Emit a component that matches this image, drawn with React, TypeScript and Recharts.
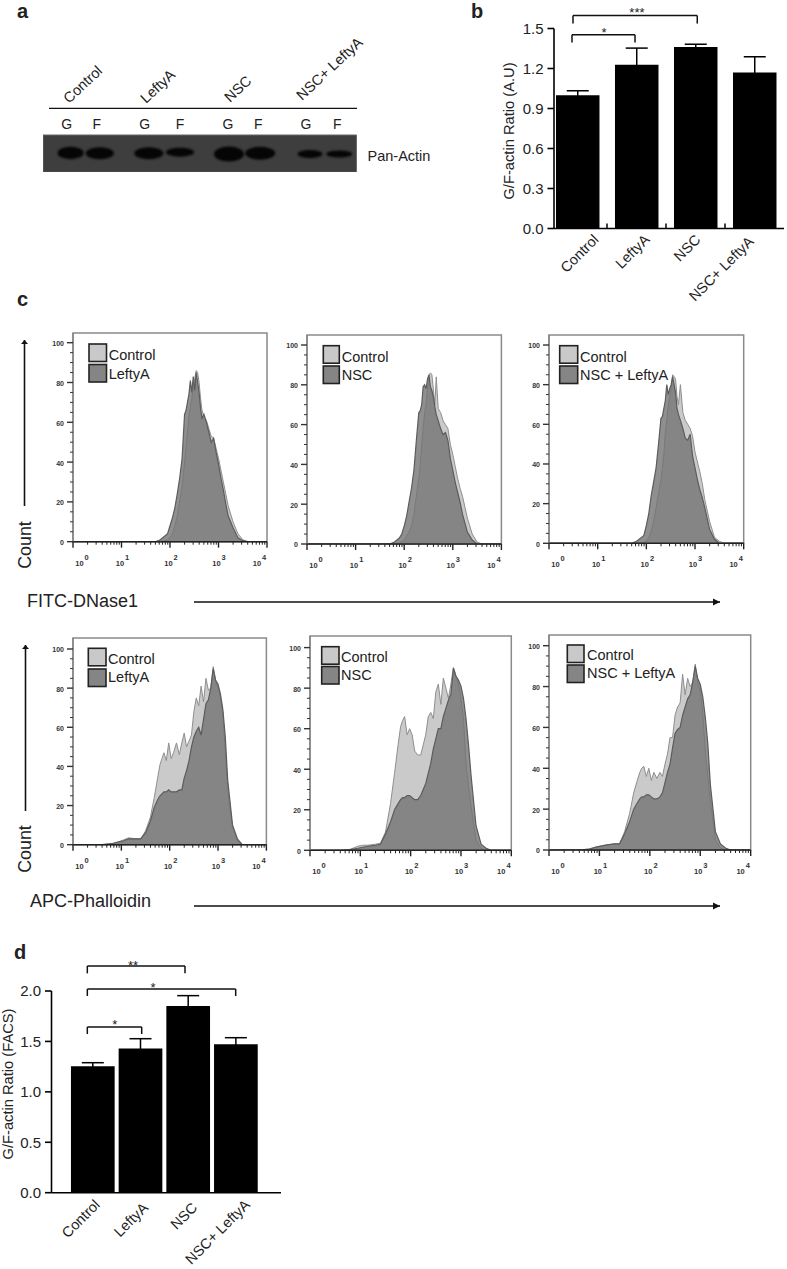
import React from 'react';
import {
  AreaChart, Area, BarChart, Bar, ErrorBar, ScatterChart, Scatter,
  XAxis, YAxis, ReferenceLine, ReferenceDot, ReferenceArea,
} from 'recharts';

const FONT = '"Liberation Sans", Arial, sans-serif';
const INK = '#222';

// ---------- Panel a: blot ----------
const laneLetters = ['G', 'F', 'G', 'F', 'G', 'F', 'G', 'F'];
const lanePositions = [0, 0.37, 0.99, 1.385, 2.005, 2.4, 3.03, 3.4];
const bandLengths = [26, 28, 29, 28, 30, 30, 25, 26];
const bandThickness = [12.5, 12, 12, 9, 15, 13, 8, 7];
const bandLevels = [0.52, 0.51, 0.51, 0.54, 0.49, 0.51, 0.49, 0.49];
const blotConditions = ['Control', 'LeftyA', 'NSC', 'NSC+ LeftyA'];

// ---------- Panels b and d ----------
const barCategories = ['Control', 'LeftyA', 'NSC', 'NSC+ LeftyA'];
const barPositions = [0, 1, 2, 3];
const ratioB = [1.0, 1.228, 1.362, 1.17];
const errorB = [0.033, 0.125, 0.02, 0.118];
const ratioD = [1.255, 1.431, 1.851, 1.471];
const errorD = [0.034, 0.096, 0.103, 0.066];

// ---------- Panel c: histogram bins (log10 of fluorescence) ----------
const dnaseLog = [0, 1.7, 1.8, 1.9, 1.95, 2.0, 2.05, 2.1, 2.15, 2.2, 2.25, 2.3, 2.33, 2.36, 2.39, 2.42, 2.45, 2.48, 2.51, 2.54, 2.57, 2.6, 2.63, 2.66, 2.7, 2.75, 2.8, 2.85, 2.9, 2.95, 3.0, 3.05, 3.1, 3.15, 3.2, 3.3, 3.4, 3.5, 3.6, 4];
const dnaseControl1 = [0, 0, 0, 0.5, 1, 2, 4, 8, 13, 20, 28, 40, 48, 55, 63, 68, 72, 78, 82, 86, 85, 80, 72, 66, 63, 61, 57, 53, 52, 47, 42, 36, 30, 24, 18, 10, 4, 1, 0, 0];
const dnaseLeftyA = [0, 0, 1, 3, 4, 8, 12, 17, 24, 32, 42, 64, 66, 70, 74, 81, 75, 83, 76, 85, 80, 75, 67, 62, 64, 60, 55, 50, 52, 45, 39, 32, 26, 19, 13, 7, 2, 0.5, 0, 0];
const dnaseControl2 = [0, 0, 0, 0.5, 1, 2, 4, 6, 9, 15, 24, 33, 40, 50, 58, 66, 70, 79, 85, 86, 85, 78, 70, 84, 68, 66, 62, 60, 58, 50, 45, 39, 33, 28, 24, 13, 5, 1, 0, 0];
const dnaseNSC = [0, 0, 1, 3, 5, 9, 14, 21, 28, 37, 52, 66, 67, 70, 79, 80, 78, 83, 85, 79, 77, 74, 69, 65, 62, 58, 55, 56, 52, 43, 37, 31, 26, 21, 15, 6, 2, 0, 0, 0];
const dnaseControl3 = [0, 0, 0, 0, 0.5, 1, 3, 6, 11, 18, 25, 32, 38, 45, 56, 62, 70, 74, 78, 85, 84, 83, 74, 70, 80, 66, 62, 60, 58, 54, 46, 41, 36, 30, 22, 11, 3, 1, 0, 0];
const dnaseBoth = [0, 0, 1, 3, 4, 9, 15, 24, 31, 38, 50, 63, 64, 68, 72, 80, 75, 78, 80, 84, 80, 76, 68, 65, 62, 58, 53, 52, 55, 44, 38, 32, 27, 23, 18, 7, 2, 0, 0, 0];

const phalloidinLog = [0, 0.6, 0.8, 0.95, 1.05, 1.15, 1.3, 1.4, 1.5, 1.6, 1.68, 1.75, 1.8, 1.84, 1.88, 1.93, 1.98, 2.03, 2.08, 2.14, 2.2, 2.25, 2.3, 2.35, 2.4, 2.45, 2.5, 2.55, 2.6, 2.65, 2.7, 2.75, 2.8, 2.85, 2.9, 2.95, 3.0, 3.05, 3.1, 3.15, 3.2, 3.3, 3.4, 3.5, 3.6, 4];
const phalControl1 = [0, 0, 0.5, 1.5, 2.5, 3.5, 3, 3, 7, 14, 24, 34, 41, 44, 47, 43, 52, 44, 47, 52, 46, 52, 57, 50, 53, 56, 68, 75, 71, 81, 73, 85, 79, 80, 91, 84, 80, 75, 67, 48, 27, 9, 2, 0, 0, 0];
const phalLeftyA = [0, 0, 0.5, 1.5, 2, 3, 3, 3, 6, 12, 19, 23, 25, 26, 27, 27, 28, 27, 27, 27, 28, 28, 34, 38, 43, 50, 55, 58, 60, 56, 64, 72, 74, 80, 90, 84, 82, 77, 69, 55, 33, 10, 3, 0, 0, 0];
const phalControl2 = [0, 0, 0.5, 2, 2.5, 2.5, 3, 3.5, 9, 23, 38, 52, 61, 64, 66, 57, 60, 57, 49, 47, 47, 52, 57, 66, 68, 65, 78, 82, 72, 85, 80, 75, 82, 90, 86, 82, 75, 65, 43, 32, 22, 5, 1, 0, 0, 0];
const phalNSC = [0, 0, 0.3, 1, 1.5, 2, 2.5, 3, 8, 14, 20, 23, 25, 26, 26, 27, 27, 26, 25, 25, 27, 30, 33, 38, 43, 50, 55, 60, 60, 66, 70, 74, 77, 90, 86, 84, 81, 75, 65, 52, 37, 12, 3, 1, 0, 0];
const phalControl3 = [0, 0, 0.5, 1.5, 2, 2.5, 3, 3, 9, 18, 28, 34, 38, 40, 41, 36, 40, 34, 38, 35, 38, 36, 42, 47, 55, 55, 66, 70, 72, 86, 76, 84, 80, 82, 91, 82, 78, 67, 48, 36, 24, 5, 1, 0, 0, 0];
const phalBoth = [0, 0, 0.5, 1.5, 2, 2.5, 3, 3, 8, 14, 20, 23, 25, 26, 26, 27, 27, 26, 25, 25, 26, 28, 33, 38, 42, 50, 57, 59, 60, 66, 70, 74, 76, 82, 90, 84, 81, 75, 65, 52, 32, 9, 3, 1, 0, 0];

const countTicks = [0, 5, 10, 15, 20, 25, 30, 35, 40, 45, 50, 55, 60, 65, 70, 75, 80, 85, 90, 95, 100];
const logMinorOffsets = [0.301, 0.477, 0.602, 0.699, 0.778, 0.845, 0.903, 0.954];
const decades = [0, 1, 2, 3, 4];

const zip = (log: number[], control: number[], treated: number[]) =>
  log.map((l, i) => ({ log: l, control: control[i], treated: treated[i] }));

const xTickValues = decades.flatMap((d) => (d < 4 ? [d, ...logMinorOffsets.map((o) => d + o)] : [d]));
const decadeLabelShift = [9, 1, 1, 0.5, -7.5];
const laneLabelShift = [-4, -3, -4, 0, -1, -2, -4, -2];

function LogTick({ x, y, payload }: any) {
  const v = payload.value;
  const major = Number.isInteger(v);
  return (
    <g>
      <line x1={x} x2={x} y1={y} y2={y + (major ? 6 : 3)} stroke="#222" strokeWidth={major ? 1.4 : 1} />
      {major ? (
        <text x={x + decadeLabelShift[v]} y={y + 24} textAnchor="middle" fontSize={7.5} fontWeight={700} fill="#333" fontFamily={FONT}>
          10
          <tspan dx={1} dy={-6} fontSize={7.5}>{v}</tspan>
        </text>
      ) : null}
    </g>
  );
}

function CountTick({ x, y, payload }: any) {
  const v = payload.value;
  const major = v % 20 === 0;
  return (
    <g>
      <line x1={x - (major ? 6 : 3)} x2={x} y1={y} y2={y} stroke="#333" strokeWidth={major ? 1.4 : 1} />
      {major ? (
        <text x={x - 9} y={y + 3.5} textAnchor="end" fontSize={7} fontWeight={700} fill="#333" fontFamily={FONT}>{v}</text>
      ) : null}
    </g>
  );
}

function FlowPanel({ g, data }: any) {
  const pad = 40;
  const width = g.x4 - g.x0;
  const plotH = g.y0 - g.top;
  const yMax = ((g.y0 - g.top) / (g.y0 - g.y100)) * 100;
  return (
    <div style={{ position: 'absolute', left: g.x0 - pad, top: g.top - 5 }}>
      <AreaChart
        width={pad + width + 10}
        height={5 + plotH + 32}
        data={data}
        margin={{ top: 5, right: 10, left: 0, bottom: 0 }}
      >
        <ReferenceArea x1={0} x2={4} y1={0} y2={yMax} fill="#fff" stroke="#8a8a8a" strokeWidth={1.5} ifOverflow="visible" />
        <XAxis
          dataKey="log" type="number" domain={[0, 4]} allowDataOverflow ticks={xTickValues} interval={0}
          height={32} tickSize={0} tickMargin={0} tickLine={false} tick={LogTick} stroke="#222" strokeWidth={1.6}
        />
        <YAxis
          type="number" domain={[0, yMax]} allowDataOverflow ticks={countTicks} interval={0}
          width={pad} tickSize={0} tickMargin={0} tickLine={false} tick={CountTick} stroke="#777" strokeWidth={1}
        />
        <Area dataKey="control" type="linear" isAnimationActive={false} fill="#cacaca" fillOpacity={1} stroke="#8e8e8e" strokeWidth={1} dot={false} />
        <Area dataKey="treated" type="linear" isAnimationActive={false} fill="#737373" fillOpacity={0.8} stroke="#5c5c5c" strokeWidth={1.2} dot={false} />
      </AreaChart>
    </div>
  );
}

const flowPanels = [
  { x0: 72.7, x4: 266.7, y100: 342.7, y0: 541.7, top: 333, swatchX: 89, swatchW: 17.5, swatchY: [344, 364.5], textX: 108.7, textY: [360, 379], name: 'LeftyA', data: zip(dnaseLog, dnaseControl1, dnaseLeftyA) },
  { x0: 307.3, x4: 501.7, y100: 345, y0: 544, top: 335, swatchX: 323.3, swatchW: 16, swatchY: [345.7, 366], textX: 341.7, textY: [361.7, 380], name: 'NSC', data: zip(dnaseLog, dnaseControl2, dnaseNSC) },
  { x0: 549, x4: 743.7, y100: 345, y0: 543.3, top: 335, swatchX: 559.7, swatchW: 18, swatchY: [345.7, 366], textX: 580, textY: [361.7, 380], name: 'NSC + LeftyA', data: zip(dnaseLog, dnaseControl3, dnaseBoth) },
  { x0: 73.3, x4: 266.7, y100: 649.3, y0: 845, top: 638.3, swatchX: 88.3, swatchW: 17.7, swatchY: [648.3, 669], textX: 108, textY: [663.7, 682], name: 'LeftyA', data: zip(phalloidinLog, phalControl1, phalLeftyA) },
  { x0: 310, x4: 511.3, y100: 647.3, y0: 850, top: 635.7, swatchX: 321.7, swatchW: 17.3, swatchY: [646.7, 666.5], textX: 341, textY: [661.7, 680], name: 'NSC', data: zip(phalloidinLog, phalControl2, phalNSC) },
  { x0: 549, x4: 750.7, y100: 645.7, y0: 850, top: 635, swatchX: 567.3, swatchW: 16.7, swatchY: [645, 665], textX: 587, textY: [660, 678], name: 'NSC + LeftyA', data: zip(phalloidinLog, phalControl3, phalBoth) },
];

// ---------- Bar panels ----------
function makeBarTick(shift: number[][], showDividers: boolean) {
  return function BarTick({ x, y, payload }: any) {
    const v = payload.value;
    if (!Number.isInteger(v)) {
      return showDividers ? <line x1={x} x2={x} y1={y} y2={y - 5} stroke="#000" strokeWidth={1.5} /> : <g />;
    }
    const ax = x + shift[v][0];
    const ay = y + shift[v][1];
    return (
      <text x={ax} y={ay} textAnchor="end" fontSize={14.5} fill={INK} fontFamily={FONT} transform={`rotate(-45 ${ax} ${ay})`}>
        {barCategories[v]}
      </text>
    );
  };
}

function bracket(x1: number, x2: number, y: number, foot: number, key: string) {
  const line = { stroke: '#111', strokeWidth: 1.5, ifOverflow: 'visible' as const };
  return [
    <ReferenceLine key={key + 'a'} {...line} segment={[{ x: x1, y }, { x: x2, y }]} />,
    <ReferenceLine key={key + 'b'} {...line} segment={[{ x: x1, y: foot }, { x: x1, y }]} />,
    <ReferenceLine key={key + 'c'} {...line} segment={[{ x: x2, y: foot }, { x: x2, y }]} />,
  ];
}

function stars(x: number, y: number, value: string, key: string) {
  return (
    <ReferenceDot
      key={key} x={x} y={y} r={0} ifOverflow="visible"
      shape={(p: any) => (
        <text x={p.cx} y={p.cy + 7.5} textAnchor="middle" fontSize={13} fill={INK} fontFamily={FONT}>{value}</text>
      )}
    />
  );
}

function BarPanel({ left, top, width, height, bottomM, axisW, rightM, topM, axisH, xDomain, yDomain, yTicks, ratio, error, barSize, tickShift, dividers, brackets, starMarks }: any) {
  const rows = barPositions.map((p, i) => ({ pos: p, ratio: ratio[i], err: error[i] }));
  const xTicks = dividers ? [0, 0.5, 1, 1.5, 2, 2.5, 3] : barPositions;
  return (
    <div style={{ position: 'absolute', left, top }}>
      <BarChart width={width} height={height} data={rows} margin={{ top: topM, right: rightM, left: 0, bottom: bottomM }}>
        <XAxis
          dataKey="pos" type="number" domain={xDomain} allowDataOverflow ticks={xTicks} interval={0}
          height={axisH} tickSize={0} tickMargin={0} tickLine={false} tick={makeBarTick(tickShift, dividers)}
          stroke="#000" strokeWidth={1.6}
        />
        <YAxis
          type="number" domain={yDomain} allowDataOverflow ticks={yTicks} interval={0} width={axisW}
          tickSize={6.5} tickMargin={4} tickFormatter={(v: number) => v.toFixed(1)}
          tick={{ fontSize: 15, fill: INK, fontFamily: FONT }}
          stroke="#000" strokeWidth={1.6}
        />
        <Bar dataKey="ratio" fill="#000" barSize={barSize} isAnimationActive={false}>
          <ErrorBar dataKey="err" direction="y" width={11} stroke="#000" strokeWidth={1.5} isAnimationActive={false} />
        </Bar>
        {brackets.flatMap((b: number[], i: number) => bracket(b[0], b[1], b[2], b[3], 'br' + i))}
        {starMarks.map((s: any, i: number) => stars(s[0], s[1], s[2], 'st' + i))}
      </BarChart>
    </div>
  );
}

// ---------- Blot ----------
function BlotPanel() {
  const rows = lanePositions.map((p, i) => ({ pos: p, level: bandLevels[i], len: bandLengths[i], thick: bandThickness[i] }));
  return (
    <div style={{ position: 'absolute', left: 43, top: 110 }}>
      <ScatterChart width={313.5} height={62.3} margin={{ top: 0, right: 0, left: 0, bottom: 0 }}>
        <XAxis
          dataKey="pos" type="number" orientation="top" domain={[-0.349, 3.619]} allowDataOverflow
          ticks={lanePositions} interval={0} height={25} axisLine={false} tickLine={false} tickSize={0} tickMargin={0}
          tick={({ x, index }: any) => (
            <text x={x + laneLabelShift[index]} y={19} textAnchor="middle" fontSize={14} fill={INK} fontFamily={FONT}>{laneLetters[index]}</text>
          )}
        />
        <YAxis dataKey="level" type="number" domain={[0, 1]} hide />
        <ReferenceArea x1={-0.349} x2={3.619} y1={0} y2={1} fill="#3e3e3e" fillOpacity={1} stroke="#6a6a6a" />
        <Scatter
          data={rows} isAnimationActive={false}
          shape={(p: any) => (
            <ellipse cx={p.cx} cy={p.cy} rx={p.payload.len / 2} ry={p.payload.thick / 2} fill="#050505" style={{ filter: 'blur(1.2px)' }} />
          )}
        />
      </ScatterChart>
    </div>
  );
}

const T = ({ x, y, size = 14, rot, anchor = 'start', weight, children }: any) => (
  <text x={x} y={y} fontSize={size} fontFamily={FONT} fill={INK} textAnchor={anchor} fontWeight={weight}
    transform={rot !== undefined ? `rotate(${rot} ${x} ${y})` : undefined}>{children}</text>
);

function Arrow({ x1, y1, x2, y2 }: any) {
  const vertical = x1 === x2;
  const head = vertical
    ? `${x2},${y2} ${x2 - 3.5},${y2 + 4} ${x2 + 3.5},${y2 + 4}`
    : `${x2},${y2} ${x2 - 7},${y2 - 3.5} ${x2 - 7},${y2 + 3.5}`;
  return (
    <g>
      <line x1={x1} y1={y1} x2={x2} y2={y2} stroke="#111" strokeWidth={1.6} />
      <polygon points={head} fill="#111" />
    </g>
  );
}

const blotLabelAnchors = [[69, 104], [146, 104], [230, 103], [302, 101]];

export default function App() {
  return (
    <div style={{ position: 'absolute', left: 0, top: 0, width: 787, height: 1269, background: '#fff', overflow: 'hidden' }}>
      <BlotPanel />
      <BarPanel
        left={470} top={0} width={317} height={310} bottomM={20} axisW={84} rightM={3} topM={28.5} axisH={61.5}
        xDomain={[-0.398, 3.5]} yDomain={[0, 1.5]} yTicks={[0, 0.3, 0.6, 0.9, 1.2, 1.5]}
        ratio={ratioB} error={errorB} barSize={43.5} dividers
        tickShift={[[22, 12], [14, 12], [6, 12], [0, 14]]}
        brackets={[[-0.093, 0.975, 1.453, 1.395], [-0.076, 2.03, 1.597, 1.537]]}
        starMarks={[[0.449, 1.492, '*'], [1.008, 1.642, '***']]}
      />
      <BarPanel
        left={0} top={940} width={290} height={329} bottomM={9} axisW={51.5} rightM={9} topM={51} axisH={67.3}
        xDomain={[-0.866, 3.946]} yDomain={[0, 2]} yTicks={[0, 0.5, 1, 1.5, 2]}
        ratio={ratioD} error={errorD} barSize={43.7} dividers={false}
        tickShift={[[8, 13], [8.5, 16], [10, 16], [15, 13]]}
        brackets={[[-0.115, 1.933, 2.248, 2.175], [-0.115, 2.996, 2.02, 1.95], [-0.115, 1.025, 1.643, 1.573]]}
        starMarks={[[0.843, 2.287, '**'], [1.262, 2.069, '*'], [0.459, 1.693, '*']]}
      />
      {flowPanels.map((g, i) => <FlowPanel key={i} g={g} data={g.data} />)}

      <svg width={787} height={1269} style={{ position: 'absolute', left: 0, top: 0, pointerEvents: 'none' }}>
        <T x={17} y={17.5} size={20} weight={700}>a</T>
        <T x={471} y={17.5} size={20} weight={700}>b</T>
        <T x={17} y={306} size={20} weight={700}>c</T>
        <T x={14} y={959} size={20} weight={700}>d</T>

        {blotConditions.map((c, i) => (
          <T key={c} x={blotLabelAnchors[i][0]} y={blotLabelAnchors[i][1]} size={14.5} rot={-43}>{c}</T>
        ))}
        <line x1={49} x2={357} y1={108.3} y2={108.3} stroke="#111" strokeWidth={1.3} />
        <T x={367.5} y={161} size={14.5}>Pan-Actin</T>

        <T x={514} y={131} size={14.7} anchor="middle" rot={-90}>G/F-actin Ratio (A.U)</T>
        <T x={13} y={1084} size={14.7} anchor="middle" rot={-90}>G/F-actin Ratio (FACS)</T>

        <Arrow x1={24.5} y1={506} x2={24.5} y2={340} />
        <Arrow x1={25.5} y1={811} x2={25.5} y2={645} />
        <T x={30.5} y={545} size={17.8} anchor="middle" rot={-90}>Count</T>
        <T x={30.5} y={849} size={17.8} anchor="middle" rot={-90}>Count</T>
        <T x={27} y={607} size={18}>FITC-DNase1</T>
        <T x={30} y={907} size={18}>APC-Phalloidin</T>
        <Arrow x1={194} y1={602} x2={720} y2={602} />
        <Arrow x1={194} y1={906} x2={720} y2={906} />

        {flowPanels.map((g, i) => (
          <g key={i}>
            <rect x={g.swatchX} y={g.swatchY[0]} width={g.swatchW} height={17.5} fill="#c9c9c9" stroke="#222" strokeWidth={1.6} />
            <rect x={g.swatchX} y={g.swatchY[1]} width={g.swatchW} height={17.5} fill="#858585" stroke="#222" strokeWidth={1.6} />
            <T x={g.textX} y={g.textY[0]} size={14.5}>Control</T>
            <T x={g.textX} y={g.textY[1]} size={14.5}>{g.name}</T>
          </g>
        ))}
      </svg>
    </div>
  );
}
